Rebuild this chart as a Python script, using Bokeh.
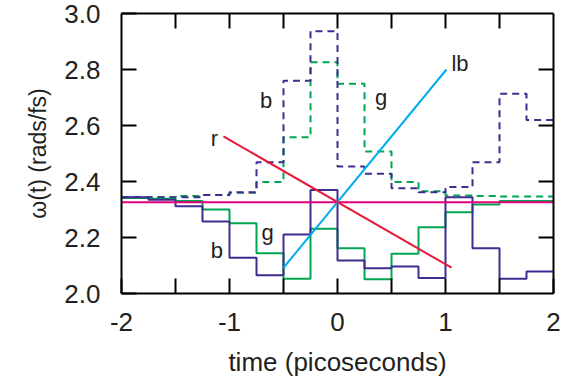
from bokeh.plotting import figure
from bokeh.models import Range1d, LinearAxis, FixedTicker, PrintfTickFormatter
from bokeh.core.properties import value
from bokeh.embed import file_html
from bokeh.resources import INLINE

# step edges (picoseconds)
edges = [-2.0, -1.75, -1.5, -1.25, -1.0, -0.75, -0.5, -0.25, 0.0,
         0.25, 0.5, 0.75, 1.0, 1.25, 1.5, 1.75, 2.0]

# solid step curves (value on each 0.25 ps interval)
b_solid = [2.344, 2.335, 2.312, 2.257, 2.128, 2.065, 2.211, 2.370,
           2.118, 2.090, 2.096, 2.055, 2.344, 2.162, 2.053, 2.079]
g_solid = [2.341, 2.338, 2.330, 2.300, 2.251, 2.144, 2.053, 2.231,
           2.162, 2.051, 2.142, 2.237, 2.290, 2.318, 2.330, 2.330]

# dashed step curves
b_dash = [2.344, 2.344, 2.344, 2.352, 2.362, 2.469, 2.760, 2.937,
          2.454, 2.428, 2.376, 2.362, 2.380, 2.469, 2.713, 2.620]
g_dash = [2.344, 2.344, 2.348, 2.352, 2.360, 2.398, 2.558, 2.826,
          2.749, 2.507, 2.398, 2.365, 2.350, 2.348, 2.346, 2.346]

# straight lines
r_x = [-1.056, 1.056]
r_y = [2.561, 2.092]
lb_x = [-0.5, 1.009]
lb_y = [2.092, 2.800]
pink_level = 2.326

# curve labels
lab_text = ["r", "b", "g", "lb", "g", "b"]
lab_x = [-1.139, -0.662, 0.403, 1.134, -0.648, -1.116]
lab_y = [2.554, 2.689, 2.700, 2.821, 2.218, 2.154]

x_major = [-2, -1, 0, 1, 2]
x_minor = [-1.5, -0.5, 0.5, 1.5]
x_all = [-1.5, -1, -0.5, 0, 0.5, 1, 1.5]
y_ticks = [2.0, 2.2, 2.4, 2.6, 2.8, 3.0]
y_inner = [2.2, 2.4, 2.6, 2.8]

PURPLE = "#3f2c8e"
GREEN = "#00a651"
RED = "#e8173c"
LBLUE = "#00aeef"
PINK = "#e6007e"
TXT = "#231f20"
FONT = "Liberation Sans"

p = figure(frame_width=432, frame_height=280, output_backend="svg",
           toolbar_location=None, x_range=Range1d(-2, 2), y_range=Range1d(2, 3),
           min_border_left=121, min_border_right=19, min_border_top=13,
           min_border_bottom=88, x_axis_type=None, y_axis_type=None)
p.outline_line_color = None
p.xgrid.visible = False
p.ygrid.visible = False
p.background_fill_color = "white"
p.border_fill_color = "white"


def style(ax):
    ax.axis_line_width = 2
    ax.axis_line_color = "black"
    ax.major_tick_in = 15
    ax.major_tick_out = 0
    ax.minor_tick_in = 15
    ax.minor_tick_out = 0
    ax.major_tick_line_width = 2
    ax.minor_tick_line_width = 2
    ax.major_tick_line_color = "black"
    ax.minor_tick_line_color = "black"
    ax.major_label_text_font = FONT
    ax.major_label_text_font_size = "26px"
    ax.major_label_text_color = TXT
    ax.axis_label_text_font = FONT
    ax.axis_label_text_font_style = "normal"
    ax.axis_label_text_color = TXT


xb = LinearAxis(ticker=FixedTicker(ticks=x_major, minor_ticks=x_minor),
                axis_label="time (picoseconds)",
                formatter=PrintfTickFormatter(format="%d"))
style(xb)
xb.axis_label_text_font_size = "26px"
xb.major_label_standoff = 19
xb.axis_label_standoff = 13
p.add_layout(xb, "below")

# top and right frame edges: ticks only, no labels
xa = LinearAxis(ticker=FixedTicker(ticks=[], minor_ticks=x_all))
style(xa)
xa.major_label_standoff = 0
p.add_layout(xa, "above")

yl = LinearAxis(ticker=FixedTicker(ticks=y_ticks, minor_ticks=[]),
                axis_label="ω(t) (rads/fs)",
                formatter=PrintfTickFormatter(format="%.1f"))
style(yl)
yl.axis_label_text_font_size = "23px"
yl.major_label_standoff = 21
yl.axis_label_standoff = 10
p.add_layout(yl, "left")

yr = LinearAxis(ticker=FixedTicker(ticks=[], minor_ticks=y_inner))
style(yr)
yr.major_label_standoff = 0
p.add_layout(yr, "right")

# dashed curves
p.step(edges, g_dash + [g_dash[-1]], mode="after", line_color=GREEN,
       line_width=2, line_dash="7 5")
p.step(edges, b_dash + [b_dash[-1]], mode="after", line_color=PURPLE,
       line_width=2, line_dash="7 5")
# solid curves
p.step(edges, g_solid + [g_solid[-1]], mode="after", line_color=GREEN, line_width=2)
p.step(edges, b_solid + [b_solid[-1]], mode="after", line_color=PURPLE, line_width=2)
# straight lines
p.line([-2, 2], [pink_level, pink_level], line_color=PINK, line_width=2)
p.line(lb_x, lb_y, line_color=LBLUE, line_width=2)
p.line(r_x, r_y, line_color=RED, line_width=2)

p.text(lab_x, lab_y, text=lab_text, text_font=value(FONT), text_font_size="22px",
       text_color=TXT, text_align="center", text_baseline="alphabetic")

open("out.html", "w").write(file_html(p, INLINE))
